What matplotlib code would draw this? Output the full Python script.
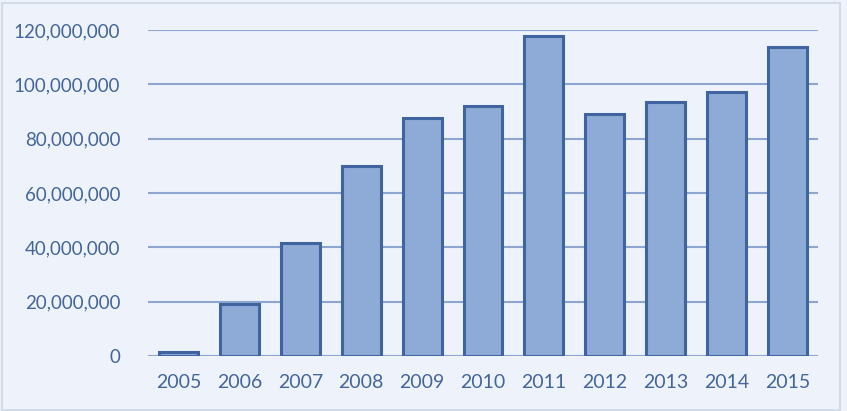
import matplotlib
matplotlib.use("Agg")
import matplotlib.pyplot as plt
from matplotlib.ticker import FuncFormatter
from matplotlib.patches import Rectangle

years = ["2005", "2006", "2007", "2008", "2009", "2010", "2011", "2012", "2013", "2014", "2015"]
values = [1.5e6, 19.1e6, 41.6e6, 69.9e6, 87.6e6, 92.0e6, 117.8e6, 89.1e6, 93.5e6, 97.2e6, 113.7e6]
yticks = [0, 20e6, 40e6, 60e6, 80e6, 100e6, 120e6]

bg = "#eef3fb"
txt = "#44659a"
plt.rcParams['font.family'] = ['Lato', 'DejaVu Sans']
fig = plt.figure(figsize=(8.47, 4.11), dpi=100, facecolor=bg)
ax = fig.add_axes([148/847, 1-356/411, (818-148)/847, (356-30)/411])
ax.set_facecolor(bg)

x = list(range(len(years)))
ax.set_axisbelow(True)
ax.yaxis.grid(True, color="#8ea6cf", linewidth=1.5)
ax.bar(x, values, width=0.64, color="#8eaad7", edgecolor="#3f64a0", linewidth=2.2, zorder=3)

ax.set_ylim(0, 120e6)
ax.set_xlim(-0.5, 10.5)
ax.set_yticks(yticks)
ax.yaxis.set_major_formatter(FuncFormatter(lambda v, p: "0" if v == 0 else f"{int(v):,}"))
ax.set_xticks(x)
ax.set_xticklabels(years)
for s in ax.spines.values():
    s.set_visible(False)
ax.tick_params(axis="both", length=0, labelcolor=txt)
ax.tick_params(axis="y", pad=20, labelsize=13.5)
ax.tick_params(axis="x", pad=13, labelsize=14)

fig.patches.append(Rectangle((0.002, 0.003), 0.99, 0.99, transform=fig.transFigure,
                             fill=False, edgecolor="#d3dbe8", linewidth=1.5))
fig.savefig("out.png", dpi=100, facecolor=bg)
